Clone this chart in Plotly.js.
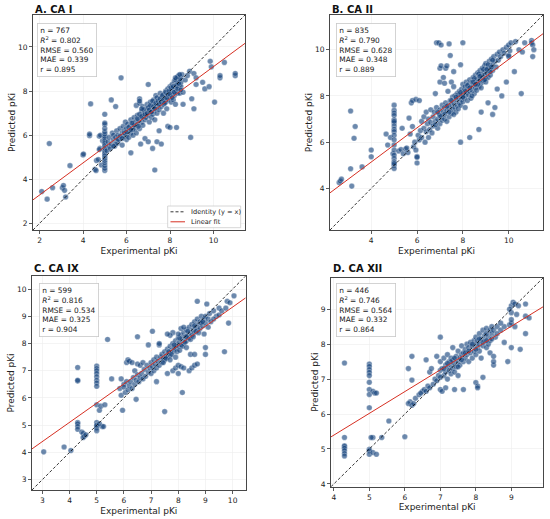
<!DOCTYPE html>
<html><head><meta charset="utf-8">
<script src="https://cdn.plot.ly/plotly-3.0.1.min.js"></script>
<style>html,body{margin:0;padding:0;background:#fff}#chart{width:550px;height:519px}</style>
</head><body><div id="chart"></div>
<script>
const panelTitles = ["A. CA I", "B. CA II", "C. CA IX", "D. CA XII"];
const statN = [767, 835, 599, 446];
const statR2 = ["0.802", "0.790", "0.816", "0.746"];
const statRMSE = ["0.560", "0.628", "0.534", "0.564"];
const statMAE = ["0.339", "0.348", "0.325", "0.332"];
const statR = ["0.895", "0.889", "0.904", "0.864"];
const fitSlope = [0.728, 0.740, 0.706, 0.623];
const fitIntercept = [1.83, 2.18, 2.28, 2.904];
const ticksA = [2, 4, 6, 8, 10];
const ticksB = [4, 6, 8, 10];
const ticksC = [3, 4, 5, 6, 7, 8, 9, 10];
const ticksD = [4, 5, 6, 7, 8, 9];
const xLabel = "Experimental pKi";
const yLabel = "Predicted pKi";
const legendNames = ["Identity (y = x)", "Linear fit"];

const ptsA = [
[2.1,3.45],[2.35,3.1],[2.45,5.62],[2.6,3.62],[3.05,3.62],[3.1,3.72],[3.15,3.5],[3.2,3.2],[3.4,4.62],[4.0,5.1],
[4.02,5.15],[4.3,5.98],[4.3,6.05],[4.35,7.42],[4.55,4.45],[4.6,4.4],[4.62,4.85],[4.7,4.9],[4.75,5.95],[4.8,6.0],
[4.78,5.4],[4.85,4.65],[4.9,5.75],
[5,4.4],[5,4.5],[5,4.62],[5,4.75],[5,4.85],[5,4.95],[5,5.05],[5,5.12],[5,5.2],[5,5.28],
[5,5.35],[5,5.42],[5,5.5],[5,5.58],[5,5.65],[5,5.72],[5,5.8],[5,5.88],[5,5.95],[5,6.05],
[5,6.15],[5,6.3],[5,6.48],[5,6.55],[5,6.95],
[5.1,5.3],[5.15,5.7],[5.2,5.5],[5.2,5.9],[5.25,5.4],[5.3,7.6],[5.3,5.6],[5.35,6.1],[5.4,5.8],[5.4,6.0],
[5.45,5.5],[5.5,7.3],[5.5,5.9],[5.55,6.2],[5.6,5.65],[5.6,6.0],[5.65,5.8],[5.7,6.3],[5.75,8.6],[5.75,5.9],
[5.8,6.1],[5.8,5.55],[5.85,6.4],[5.9,5.95],[5.9,6.2],[5.95,6.6],[6.0,6.0],[6.0,6.3],[6.0,5.8],[6.05,6.5],
[6.1,6.2],[6.1,5.9],[6.15,6.4],[6.2,5.2],[6.2,6.7],[6.2,6.1],[6.25,6.35],[6.3,6.55],[6.3,6.0],[6.35,6.8],
[6.4,6.3],[6.4,6.6],[6.45,7.35],[6.45,6.1],[6.5,6.5],[6.5,6.9],[6.55,6.7],[6.6,7.45],[6.6,7.65],[6.6,7.55],
[6.6,6.3],[6.65,5.6],[6.65,6.85],[6.7,7.1],[6.7,6.6],[6.75,7.3],[6.75,6.45],[6.8,6.9],[6.8,7.0],[6.85,5.85],
[6.85,6.7],[6.9,7.2],[6.9,6.8],[6.95,7.4],[7.0,8.3],[7.0,6.9],[7.0,7.1],[7.0,5.7],[7.05,6.6],[7.05,7.3],
[7.1,7.0],[7.1,7.5],[7.15,6.8],[7.15,7.2],[7.2,5.4],[7.2,7.35],[7.2,6.95],[7.25,7.6],[7.25,7.1],[7.3,4.42],
[7.3,7.4],[7.3,6.7],[7.35,7.25],[7.35,7.8],[7.4,5.7],[7.4,7.0],[7.4,7.5],[7.45,7.3],[7.5,7.6],[7.5,7.15],
[7.5,6.2],[7.55,7.9],[7.55,7.45],[7.6,5.6],[7.6,7.7],[7.6,7.3],[7.65,7.55],[7.7,7.0],[7.7,7.85],[7.7,7.4],
[7.75,7.65],[7.8,8.0],[7.8,7.5],[7.8,7.75],[7.85,7.2],[7.85,7.9],[7.9,7.6],[7.9,6.4],[7.9,8.1],[7.95,7.8],
[8.0,7.95],[8.0,7.7],[8.0,8.2],[8.0,6.35],[8.05,7.5],[8.05,8.05],[8.1,7.85],[8.1,8.3],[8.15,7.95],[8.15,7.6],
[8.2,8.1],[8.2,8.45],[8.2,7.8],[8.25,8.25],[8.25,7.4],[8.3,8.0],[8.3,8.55],[8.3,6.35],[8.35,8.35],[8.35,7.9],
[8.4,8.7],[8.4,8.15],[8.4,8.5],[8.45,8.3],[8.45,7.9],[8.5,8.6],[8.5,8.4],[8.5,8.2],[8.55,8.75],[8.6,7.4],
[8.6,7.95],[8.7,8.5],[8.8,8.7],[8.9,8.9],[8.95,5.9],[9.0,7.65],[9.1,8.8],[9.1,7.2],[9.2,8.6],[9.2,8.3],
[9.5,8.4],[9.6,8.1],[9.8,8.2],[9.85,9.35],[9.9,9.1],[10.05,7.5],[10.3,8.6],[10.3,8.7],[10.5,9.3],[11.0,8.7],
[11.0,8.8],
[6.3,6.25],[6.35,6.45],[6.5,6.75],[6.55,6.4],[6.6,6.95],[6.7,6.85],[6.8,7.15],[6.85,6.95],[6.95,7.0],[7.0,7.25],
[7.05,7.15],[7.1,7.35],[7.15,7.05],[7.2,7.55],[7.25,7.3],[7.3,7.2],[7.35,7.45],[7.4,7.7],[7.45,7.55],[7.5,7.4],
[7.55,7.65],[7.6,7.5],[7.65,7.8],[7.7,7.6],[7.75,7.45],[7.8,7.95],[7.85,7.7],[7.9,7.85],[7.95,8.0],[8.0,7.85],
[8.05,8.15],[8.1,7.7],[8.15,8.2],[8.2,7.95],[8.25,8.5],[8.3,8.25],[8.35,8.1],[8.4,8.35],[8.45,8.55],[8.5,8.05],
[5.6,5.8],[5.7,5.95],[5.8,5.85],[5.9,6.1],[6.0,6.15],[6.1,6.35],[6.2,6.25],[6.25,6.55],[5.5,5.6],[5.4,5.5],
[6.7,7.2],[4.75,5.35],[8.35,8.65],[8.45,8.75],[8.25,8.6]
];

const ptsB = [
[2.6,4.25],[2.65,4.32],[2.7,4.4],[3.1,4.85],[3.1,7.35],[3.15,4.1],[3.25,6.17],[3.3,6.68],[3.6,4.93],[4.0,5.66],
[4.0,5.37],[4.65,6.35],[4.72,5.88],[4.84,6.2],[4.95,5.5],
[5,7.6],[5,7.38],[5,7.26],[5,7.16],[5,6.97],[5,6.83],[5,6.7],[5,6.56],[5,6.46],[5,6.3],
[5,6.1],[5,5.88],[5,5.66],[5,5.44],[5,5.3],[5,5.15],[5,5.0],[5,4.86],[5,5.08],[5,6.9],
[5.2,5.62],[5.3,5.68],[5.4,5.5],[5.35,6.6],[5.5,5.7],[5.6,5.55],[5.55,5.75],[5.65,7.04],[5.7,6.35],[5.75,7.7],
[5.8,7.8],[5.8,6.68],[5.85,5.8],[5.9,6.0],[5.95,7.85],[5.95,5.66],[6.0,5.38],[6.0,5.35],[6.0,5.1],[6.05,6.3],
[6.1,7.8],[6.1,6.1],[6.15,6.5],[6.2,6.9],[6.2,6.2],[6.3,6.6],[6.3,7.1],[6.35,6.0],[6.4,7.3],[6.4,6.45],
[6.45,6.8],[6.5,6.2],[6.5,7.0],[6.55,6.55],[6.6,7.4],[6.6,6.85],[6.65,6.4],[6.7,7.1],[6.7,6.7],[6.75,7.3],
[6.8,8.1],[6.8,6.9],[6.85,10.3],[6.85,7.5],[6.9,7.0],[6.9,6.6],[6.95,10.3],[6.95,7.25],[7.0,9.2],[7.0,8.6],
[7.0,7.4],[7.0,6.8],[7.05,9.3],[7.05,10.2],[7.05,7.1],[7.1,7.6],[7.1,6.95],[7.15,8.8],[7.15,7.3],[7.2,8.55],
[7.2,7.5],[7.2,7.0],[7.25,9.2],[7.25,7.7],[7.3,9.3],[7.3,7.35],[7.3,6.9],[7.35,8.2],[7.35,7.6],[7.4,10.25],
[7.4,7.45],[7.4,7.1],[7.45,9.75],[7.45,7.8],[7.5,8.6],[7.5,7.6],[7.5,7.25],[7.55,7.95],[7.55,7.4],[7.6,9.05],
[7.6,8.4],[7.6,7.7],[7.65,7.5],[7.65,8.0],[7.7,7.85],[7.7,7.3],[7.75,8.1],[7.75,7.6],[7.8,7.9],[7.8,7.45],
[7.85,8.2],[7.85,7.7],[7.9,9.35],[7.9,6.0],[7.9,8.0],[7.9,7.6],[7.95,8.3],[7.95,7.85],[8.0,10.3],[8.0,8.1],
[8.0,7.75],[8.0,8.5],[8.05,8.25],[8.05,7.9],[8.1,8.4],[8.1,8.0],[8.1,7.5],[8.15,8.6],[8.15,8.15],[8.2,8.3],
[8.2,7.8],[8.25,8.5],[8.25,8.05],[8.3,6.2],[8.3,8.7],[8.3,8.2],[8.35,8.4],[8.35,7.9],[8.4,8.6],[8.4,8.25],
[8.45,8.8],[8.45,8.45],[8.5,8.55],[8.5,8.1],[8.55,8.9],[8.55,8.35],[8.6,8.7],[8.6,8.45],[8.65,9.0],[8.65,8.6],
[8.7,6.55],[8.7,8.8],[8.7,8.4],[8.75,9.1],[8.75,8.7],[8.8,7.3],[8.8,8.9],[8.8,8.55],[8.85,9.2],[8.85,8.8],
[8.9,9.0],[8.9,8.65],[8.95,9.3],[8.95,8.9],[9.0,9.1],[9.0,8.75],[9.0,9.4],[9.05,9.0],[9.1,7.7],[9.1,9.2],
[9.1,8.8],[9.15,9.5],[9.15,9.05],[9.2,9.3],[9.2,8.9],[9.25,9.6],[9.3,7.2],[9.3,9.35],[9.3,9.1],[9.35,9.7],
[9.4,7.5],[9.4,9.5],[9.45,9.25],[9.5,8.3],[9.5,9.8],[9.55,9.55],[9.6,9.9],[9.65,9.7],[9.7,8.0],[9.75,10.0],
[9.8,9.85],[9.9,8.6],[9.9,10.1],[10.0,10.2],[10.0,9.7],[10.0,9.75],[10.05,9.95],[10.1,10.3],[10.25,9.05],[10.3,10.35],
[10.45,10.0],[10.55,8.1],[10.6,9.9],[10.7,10.3],[11.0,10.4],[11.0,10.3],[11.05,10.2],[11.1,10.0],[11.05,9.7],
[7.6,7.2],[7.8,8.05],[8.0,7.95],[8.2,8.45],[8.4,8.0],[8.5,8.75],[8.6,8.25],[8.7,8.95],[8.8,8.35],[8.9,9.15],
[9.0,8.6],[9.1,9.35],[9.2,9.05],[9.3,9.55],[8.3,8.35],[8.1,8.2],[7.9,8.15],[8.45,8.6],[8.65,8.5],[8.95,8.7],
[9.05,9.15],[7.4,7.3],[7.2,7.2],[7.0,7.15],[6.9,7.3],[6.8,6.75],[7.3,7.55],[7.5,7.8],[7.7,7.95],[8.75,8.85],
[9.25,9.25],[8.55,8.5]
];

const ptsC = [
[3.05,4.02],[3.8,4.2],[4.05,4.07],[4.3,5.1],[4.3,5.05],[4.3,4.95],[4.3,4.85],[4.3,6.62],[4.3,6.65],[4.3,7.12],
[4.45,4.75],[4.5,4.7],[4.55,4.6],[4.5,4.55],[4.6,4.65],
[5,7.17],[5,7.08],[5,7.0],[5,6.9],[5,6.78],[5,6.65],[5,6.55],[5,6.43],[5,5.1],[5,4.95],
[5,4.9],[5,4.8],[5,5.75],[5,5.0],
[5.1,5.55],[5.15,5.7],[5.2,4.95],[5.1,5.05],[5.25,4.95],[5.3,5.75],[5.4,8.15],[5.55,6.7],[5.95,5.55],[5.9,6.1],
[5.85,6.35],[6.0,6.5],[6.0,6.4],[5.9,6.7],[6.05,6.2],[6.1,7.3],[6.15,7.4],[6.2,7.35],[6.3,7.3],[6.5,7.25],
[6.6,7.2],[6.4,7.0],[6.7,7.3],[6.1,6.6],[6.15,6.3],[6.2,6.45],[6.25,6.6],[6.3,6.35],[6.35,6.75],[6.4,6.5],
[6.45,5.95],[6.45,6.65],[6.5,8.25],[6.5,6.85],[6.55,6.6],[6.6,6.75],[6.65,6.9],[6.7,6.7],[6.75,7.05],[6.8,6.8],
[6.85,7.2],[6.9,7.95],[6.9,6.95],[6.95,7.1],[7.0,7.3],[7.0,6.9],[7.05,8.45],[7.05,7.15],[7.1,7.4],[7.1,7.0],
[7.15,7.25],[7.2,6.6],[7.2,7.5],[7.2,7.1],[7.25,7.35],[7.3,7.95],[7.3,8.0],[7.3,7.2],[7.35,7.5],[7.4,7.6],
[7.4,7.3],[7.45,7.45],[7.5,5.5],[7.5,7.7],[7.5,7.4],[7.55,7.55],[7.6,6.9],[7.6,7.8],[7.6,7.5],[7.65,7.65],
[7.7,7.9],[7.7,7.55],[7.75,7.75],[7.8,7.0],[7.8,8.0],[7.8,7.7],[7.85,7.85],[7.9,7.1],[7.9,8.1],[7.9,7.8],
[7.95,7.95],[8.0,7.2],[8.0,8.2],[8.0,7.9],[8.0,6.9],[8.05,8.05],[8.1,7.15],[8.1,8.3],[8.1,7.95],[8.15,6.2],
[8.15,8.15],[8.2,7.1],[8.2,8.4],[8.2,8.0],[8.25,8.25],[8.3,8.5],[8.3,8.1],[8.35,8.3],[8.4,7.0],[8.4,8.6],
[8.4,8.2],[8.45,7.6],[8.45,8.4],[8.5,7.1],[8.5,8.7],[8.5,8.3],[8.55,8.5],[8.6,7.2],[8.6,7.6],[8.6,8.8],
[8.6,8.4],[8.65,8.6],[8.7,9.55],[8.7,7.25],[8.7,8.9],[8.7,8.5],[8.75,8.7],[8.8,8.8],[8.8,8.55],[8.85,9.0],
[8.9,8.65],[8.95,8.35],[8.95,8.9],[9.0,7.6],[9.0,7.85],[9.0,9.0],[9.0,8.75],[9.05,9.45],[9.1,8.9],[9.15,9.1],
[9.2,8.8],[9.3,9.2],[9.4,9.0],[9.5,9.05],[9.5,9.3],[9.6,9.2],[9.7,7.7],[9.75,9.3],[9.8,9.55],[9.85,8.75],
[9.9,9.5],[10.05,9.75],
[7.45,7.3],[7.55,7.45],[7.65,7.7],[7.75,7.6],[7.85,7.95],[7.95,7.7],[8.05,8.2],[8.15,7.9],[8.25,8.05],[8.35,8.45],
[8.45,8.15],[8.55,8.25],[8.65,8.45],[8.75,8.4],[8.85,8.75],[8.0,8.35],[8.3,8.25],[8.6,8.65],[8.9,8.8],[7.7,7.4],
[7.8,8.4],[7.7,8.3],[7.6,8.35],[8.1,8.55],[8.2,8.6],[9.1,8.6],[9.3,8.9],[7.9,7.5],[8.05,7.75],[8.3,7.85]
];

const ptsD = [
[4.3,7.46],[4.3,5.33],[4.3,5.06],[4.3,5.09],[4.3,5.02],[4.3,4.95],[4.3,4.87],[4.3,4.8],
[5,7.43],[5,7.36],[5,7.27],[5,7.19],[5,7.1],[5,6.91],[5,6.7],[5,6.56],[5,6.18],[5,4.99],
[5,4.95],[5,4.85],[5.1,6.65],[5.15,6.6],[5.2,6.6],[5.1,4.9],[5.2,4.85],[5.1,5.33],[5.05,5.33],
[5.35,5.33],[5.55,5.8],[6.0,5.35],[6.1,7.3],[6.2,7.65],[6.2,6.97],[6.15,6.35],[6.1,6.3],[6.2,6.25],[6.25,6.3],
[6.3,6.45],[6.4,6.55],[6.5,6.65],[6.6,7.55],[6.7,7.2],[6.75,7.3],[6.45,6.6],[6.55,6.7],[6.6,6.65],[6.65,6.8],
[6.7,6.75],[6.8,6.85],[6.85,7.0],[6.9,7.65],[6.9,6.95],[6.95,7.1],[7.0,8.2],[7.0,6.7],[7.0,7.25],[7.0,7.5],
[7.05,6.65],[7.05,7.3],[7.1,7.6],[7.1,7.1],[7.15,6.75],[7.15,7.4],[7.15,7.2],[7.2,7.7],[7.2,7.0],[7.2,7.35],
[7.25,7.5],[7.25,7.25],[7.3,7.6],[7.3,7.15],[7.3,7.4],[7.35,7.9],[7.35,7.3],[7.35,7.55],[7.4,6.7],[7.4,7.45],
[7.4,7.2],[7.45,7.65],[7.45,7.35],[7.5,7.5],[7.5,7.8],[7.5,7.1],[7.55,7.6],[7.55,7.4],[7.6,7.7],[7.6,7.95],
[7.65,6.7],[7.65,7.5],[7.65,7.75],[7.7,7.85],[7.7,7.6],[7.75,7.7],[7.75,8.0],[7.8,7.9],[7.8,7.5],[7.85,7.75],
[7.85,8.05],[7.9,7.95],[7.9,7.6],[7.95,8.1],[7.95,7.8],[8.0,6.9],[8.0,8.0],[8.0,7.7],[8.0,8.2],[8.05,6.8],
[8.05,6.75],[8.05,7.9],[8.05,8.1],[8.1,8.3],[8.1,7.8],[8.1,8.0],[8.15,8.15],[8.15,7.6],[8.2,7.05],[8.2,8.4],
[8.2,7.95],[8.25,8.1],[8.25,8.25],[8.3,8.45],[8.3,7.9],[8.35,8.2],[8.35,8.0],[8.4,8.4],[8.4,7.75],[8.45,8.3],
[8.45,8.5],[8.5,7.4],[8.5,7.5],[8.5,7.65],[8.5,8.4],[8.55,8.2],[8.6,8.5],[8.7,8.4],[8.8,8.5],[8.8,8.05],
[8.9,7.5],[8.95,8.55],[9.0,7.9],[9.0,8.6],[9.0,8.7],[9.0,8.9],[9.0,9.1],[9.05,9.2],[9.1,9.15],[9.1,8.5],
[9.15,8.85],[9.2,9.1],[9.25,7.85],[9.4,8.3],[9.4,8.8],[9.4,9.15],[9.5,8.75],
[7.3,7.5],[7.4,7.6],[7.2,7.45],[7.5,7.35],[7.6,7.55],[7.7,7.75],[7.8,7.8],[7.9,8.0],[8.0,7.85],[8.1,8.15],
[8.2,8.05],[8.3,8.3],[8.4,8.1],[7.1,7.3],[7.0,7.05],[8.3,8.1],[8.45,8.15],[8.6,8.3],[8.7,8.6],[8.95,9.0]
];

const panels = [
  {pts: ptsA, ticks: ticksA, range: [1.7, 11.45], xd: [0.06, 0.4455], yd: [0.5568, 0.9711], tx: 33, ty: 10},
  {pts: ptsB, ticks: ticksB, range: [2.2, 11.5], xd: [0.6, 0.9873], yd: [0.5568, 0.9711], tx: 330, ty: 10},
  {pts: ptsC, ticks: ticksC, range: [2.62, 10.48], xd: [0.0582, 0.4467], yd: [0.0559, 0.4682], tx: 32, ty: 269},
  {pts: ptsD, ticks: ticksD, range: [3.92, 9.9], xd: [0.6018, 0.9878], yd: [0.0622, 0.4649], tx: 331, ty: 268}
];
const statBox = [[37, 23.5], [336, 23.5], [38.5, 282.5], [336, 283]];

const W = 550, H = 519;
const FONT = "DejaVu Sans, Liberation Sans, sans-serif";
const traces = [];
const layout = {
  width: W, height: H, margin: {l: 0, r: 0, t: 0, b: 0},
  paper_bgcolor: "#fff", plot_bgcolor: "#fff",
  font: {family: FONT, color: "#222"},
  showlegend: false,
  annotations: [], shapes: []
};

panels.forEach((p, i) => {
  const s = i === 0 ? "" : String(i + 1);
  const xa = "x" + s, ya = "y" + s;
  traces.push({
    type: "scatter", mode: "markers", xaxis: xa, yaxis: ya, showlegend: false, hoverinfo: "skip",
    x: p.pts.map(d => d[0]), y: p.pts.map(d => d[1]),
    marker: {size: 5.6, color: "rgba(18,64,122,0.62)", line: {color: "rgba(255,255,255,0.7)", width: 0.4}}
  });
  traces.push({
    type: "scatter", mode: "lines", xaxis: xa, yaxis: ya, name: legendNames[0], showlegend: false,
    x: p.range, y: p.range, line: {color: "#000", width: 0.8, dash: "3px,2px"}, hoverinfo: "skip"
  });
  traces.push({
    type: "scatter", mode: "lines", xaxis: xa, yaxis: ya, name: legendNames[1], showlegend: false,
    x: p.range, y: p.range.map(v => fitSlope[i] * v + fitIntercept[i]),
    line: {color: "#d62f22", width: 1}, hoverinfo: "skip"
  });
  const common = {
    range: p.range, tickmode: "array", tickvals: p.ticks, ticktext: p.ticks.map(String),
    showgrid: true, gridcolor: "#ececec", gridwidth: 0.6, zeroline: false,
    showline: true, mirror: true, linecolor: "#333", linewidth: 0.9,
    ticks: "outside", ticklen: 3, tickwidth: 0.8, tickcolor: "#333",
    tickfont: {size: 7.5, family: FONT, color: "#222"}, automargin: false, fixedrange: true
  };
  layout["xaxis" + s] = Object.assign({}, common, {domain: p.xd, anchor: ya,
    title: {text: xLabel, font: {size: 9, family: FONT, color: "#222"}, standoff: 3}});
  layout["yaxis" + s] = Object.assign({}, common, {domain: p.yd, anchor: xa,
    title: {text: yLabel, font: {size: 9, family: FONT, color: "#222"}, standoff: 0}});
  layout.annotations.push({
    xref: "paper", yref: "paper", x: p.tx / W, y: 1 - p.ty / H, xanchor: "left", yanchor: "middle",
    text: "<b>" + panelTitles[i] + "</b>", showarrow: false,
    font: {size: 10, family: FONT, color: "#111"}
  });
  layout.annotations.push({
    xref: "paper", yref: "paper", x: statBox[i][0] / W, y: 1 - statBox[i][1] / H,
    xanchor: "left", yanchor: "top", align: "left", showarrow: false,
    text: "n = " + statN[i] + "<br><i>R</i><sup>2</sup> = " + statR2[i] + "<br>RMSE = " + statRMSE[i] +
      "<br>MAE = " + statMAE[i] + "<br>r = " + statR[i],
    font: {size: 7.4, family: FONT, color: "#222"},
    bgcolor: "rgba(255,255,255,0.85)", bordercolor: "#c8c8c8", borderwidth: 0.8, borderpad: 2.5
  });
});

// legend box for panel A (identity line and linear fit)
const lg = {x0: 167.7, x1: 240.7, y0: 206, y1: 227.7};
layout.shapes.push({type: "rect", xref: "paper", yref: "paper",
  x0: lg.x0 / W, x1: lg.x1 / W, y0: 1 - lg.y1 / H, y1: 1 - lg.y0 / H,
  fillcolor: "rgba(255,255,255,0.85)", line: {color: "#cccccc", width: 0.8}});
layout.shapes.push({type: "line", xref: "paper", yref: "paper",
  x0: 170.5 / W, x1: 185 / W, y0: 1 - 211.8 / H, y1: 1 - 211.8 / H,
  line: {color: "#000", width: 0.8, dash: "3px,2px"}});
layout.shapes.push({type: "line", xref: "paper", yref: "paper",
  x0: 170.5 / W, x1: 185 / W, y0: 1 - 221.8 / H, y1: 1 - 221.8 / H,
  line: {color: "#d62f22", width: 1}});
legendNames.forEach((nm, k) => {
  layout.annotations.push({xref: "paper", yref: "paper", x: 188.5 / W, y: 1 - (211.8 + 10 * k) / H,
    xanchor: "left", yanchor: "middle", text: nm, showarrow: false,
    font: {size: 6.6, family: FONT, color: "#222"}});
});

Plotly.newPlot("chart", traces, layout, {staticPlot: true, displayModeBar: false});
</script>
</body></html>
